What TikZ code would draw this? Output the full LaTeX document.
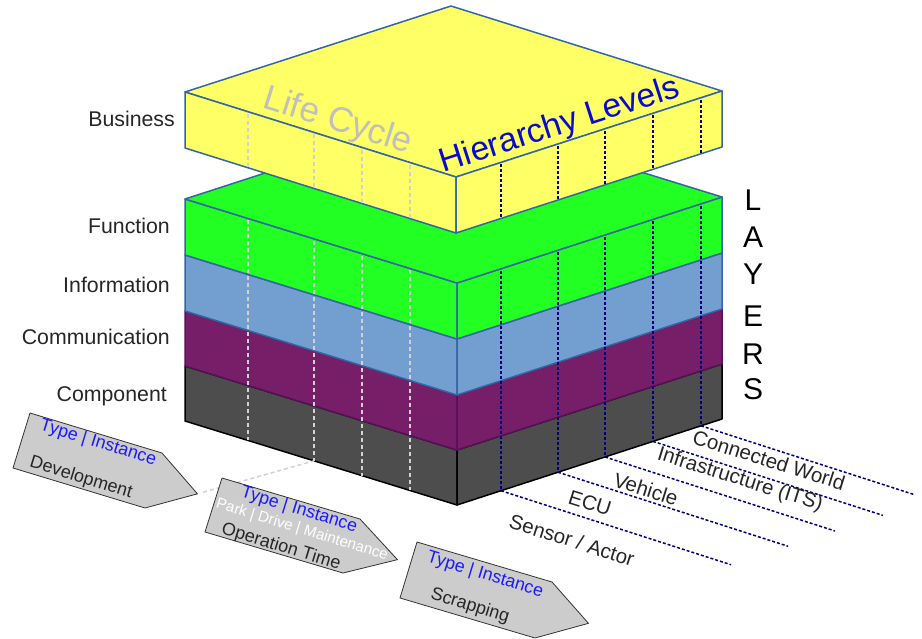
\documentclass[tikz,border=0pt]{standalone}
\usepackage{fontspec}
\setmainfont{Liberation Sans}
\usetikzlibrary{calc}

\definecolor{slabyellow}{HTML}{FFFF66}
\definecolor{funcgreen}{HTML}{22FF22}
\definecolor{infoblue}{HTML}{729FCF}
\definecolor{commpurple}{HTML}{761F68}
\definecolor{compgray}{HTML}{4D4D4D}
\definecolor{edgeblue}{HTML}{3465A4}
\definecolor{edgepurple}{HTML}{5A0F5A}
\definecolor{levelnavy}{HTML}{000080}
\definecolor{levelblue}{HTML}{0A0ACC}
\definecolor{typeblue}{HTML}{1A1AFF}
\definecolor{chevgray}{HTML}{CCCCCC}

% one layer of the stack: fill, edge, front top y, front bottom y
\newcommand{\stacklayer}[4]{%
  \draw[line width=1.5pt, line join=round, draw=#2, fill=#1]
    (185,{#3-84}) -- (457,#3) -- (457,#4) -- (185,{#4-84}) -- cycle;
  \draw[line width=1.5pt, line join=round, draw=#2, fill=#1]
    (457,#3) -- (722,{#3-86}) -- (722,{#4-86}) -- (457,#4) -- cycle;
}

\begin{document}
\begin{tikzpicture}[x=1pt,y=-1pt,
    lifedash/.style={gray!35, line width=1.5pt, dash pattern=on 4pt off 3pt},
    leveldash/.style={levelnavy, line width=1.5pt, dash pattern=on 3pt off 2pt},
    layerlabel/.style={font=\fontsize{21.3}{25}\selectfont, text=black!85, anchor=base east, inner sep=0pt},
    levellabel/.style={font=\fontsize{20.5}{24}\selectfont, text=black!85, rotate=-17.5},
    chevron/.style={draw=black!80, fill=chevgray, line width=0.8pt, line join=round},
    typelabel/.style={font=\fontsize{17.8}{21}\selectfont, text=typeblue, rotate=-17},
    phaselabel/.style={font=\fontsize{18}{21}\selectfont, text=black!85, rotate=-17},
    layerletter/.style={font=\fontsize{30}{36}\selectfont, text=black}]

    \useasboundingbox (0,0) rectangle (922,638);

    % stack of layers, bottom first
    \stacklayer{compgray}{black}{450}{505}
    \stacklayer{commpurple}{edgepurple}{395}{450}
    \stacklayer{infoblue}{edgeblue}{339}{395}
    \stacklayer{funcgreen}{edgeblue}{283}{339}
    \draw[line width=1.5pt, line join=round, draw=edgeblue, fill=funcgreen]
        (185,199) -- (450,113) -- (722,197) -- (457,283) -- cycle;

    % life cycle and hierarchy lines on the stack
    \foreach \x [count=\i] in {248,314,362,410} {
        \draw[lifedash] (\x,{201+(\x-185)*0.3088}) -- (\x,{421+(\x-185)*0.3088});
        \coordinate (lcbot\i) at (\x,{421+(\x-185)*0.3088});
    }
    \foreach \x [count=\i] in {501,558,605,653,701} {
        \draw[leveldash] (\x,{285-(\x-457)*0.3245}) -- (\x,{505-(\x-457)*0.3245});
        \coordinate (lvbot\i) at (\x,{505-(\x-457)*0.3245});
    }
    \draw[leveldash] (lvbot1) -- ++(230,74);
    \draw[leveldash] (lvbot2) -- ++(230,74);
    \draw[leveldash] (lvbot3) -- ++(230,74);
    \draw[leveldash] (lvbot4) -- ++(230,74);
    \draw[leveldash] (lvbot5) -- ++(214,69);

    \node[levellabel] (sensor) at (572,540) {Sensor / Actor};
    \node[levellabel] (ecu) at (590,503) {ECU};
    \node[levellabel] (vehicle) at (646,489) {Vehicle};
    \node[levellabel] (infra) at (740,480) {Infrastructure (ITS)};
    \node[levellabel] (world) at (769,460) {Connected World};

    % business slab
    \draw[line width=1.5pt, line join=round, draw=edgeblue, fill=slabyellow]
        (185,92) -- (451,6) -- (722,91) -- (456,177) -- cycle;
    \draw[line width=1.5pt, line join=round, draw=edgeblue, fill=slabyellow]
        (185,92) -- (456,177) -- (456,233) -- (185,148) -- cycle;
    \draw[line width=1.5pt, line join=round, draw=edgeblue, fill=slabyellow]
        (456,177) -- (722,91) -- (722,147) -- (456,233) -- cycle;
    \foreach \x in {248,314,362,410}
        \draw[lifedash] (\x,{94+(\x-185)*0.3137}) -- (\x,{148+(\x-185)*0.3137});
    \foreach \x in {501,558,605,653,701}
        \draw[leveldash] (\x,{179-(\x-456)*0.3233}) -- (\x,{233-(\x-456)*0.3233});

    \node[font=\fontsize{35}{40}\selectfont, text=gray!50, rotate=-17.4] (lifecycle) at (338,122) {Life Cycle};
    \node[font=\fontsize{33.5}{38}\selectfont, text=levelblue, rotate=17.9] (hierarchy) at (560,126) {Hierarchy Levels};

    % layer names
    \node[layerlabel] (business) at (175,126.5) {Business};
    \node[layerlabel] (function) at (170,233.5) {Function};
    \node[layerlabel] (information) at (170,292.5) {Information};
    \node[layerlabel] (communication) at (170,344.5) {Communication};
    \node[layerlabel] (component) at (167,401.5) {Component};

    \foreach \l/\y in {L/200,A/237,Y/274,E/316,R/354,S/389}
        \node[layerletter] (letter\l) at (753,\y) {\l};

    % life cycle phases
    \begin{scope}[shift={(30,413)}, x={(132pt,-40pt)}, y={(-17pt,-55pt)}]
        \draw[chevron] (0,0) -- (1,0) -- (1.333,0.5) -- (1,1) -- (0,1) -- cycle;
        \coordinate (devtip) at (1.333,0.5);
    \end{scope}
    \draw[lifedash, shorten <=6pt] (devtip) -- (lcbot2);
    \begin{scope}[shift={(222,478)}, x={(138pt,-41pt)}, y={(-17pt,-54pt)}]
        \draw[chevron] (0,0) -- (1,0) -- (1.333,0.5) -- (1,1) -- (0,1) -- cycle;
    \end{scope}
    \begin{scope}[shift={(417,542)}, x={(135pt,-40pt)}, y={(-17pt,-56pt)}]
        \draw[chevron] (0,0) -- (1,0) -- (1.333,0.5) -- (1,1) -- (0,1) -- cycle;
    \end{scope}

    \node[typelabel] (devtype) at (98,443) {Type | Instance};
    \node[phaselabel] (devname) at (81,478) {Development};
    \node[typelabel] (opttype) at (299,510) {Type | Instance};
    \node[font=\fontsize{15.2}{17}\selectfont, text=white, rotate=-17] (optmodes) at (302,530) {Park | Drive | Maintenance};
    \node[phaselabel] (optname) at (281,547) {Operation Time};
    \node[typelabel] (scraptype) at (485,575) {Type | Instance};
    \node[phaselabel] (scrapname) at (470,606) {Scrapping};

\end{tikzpicture}
\end{document}
